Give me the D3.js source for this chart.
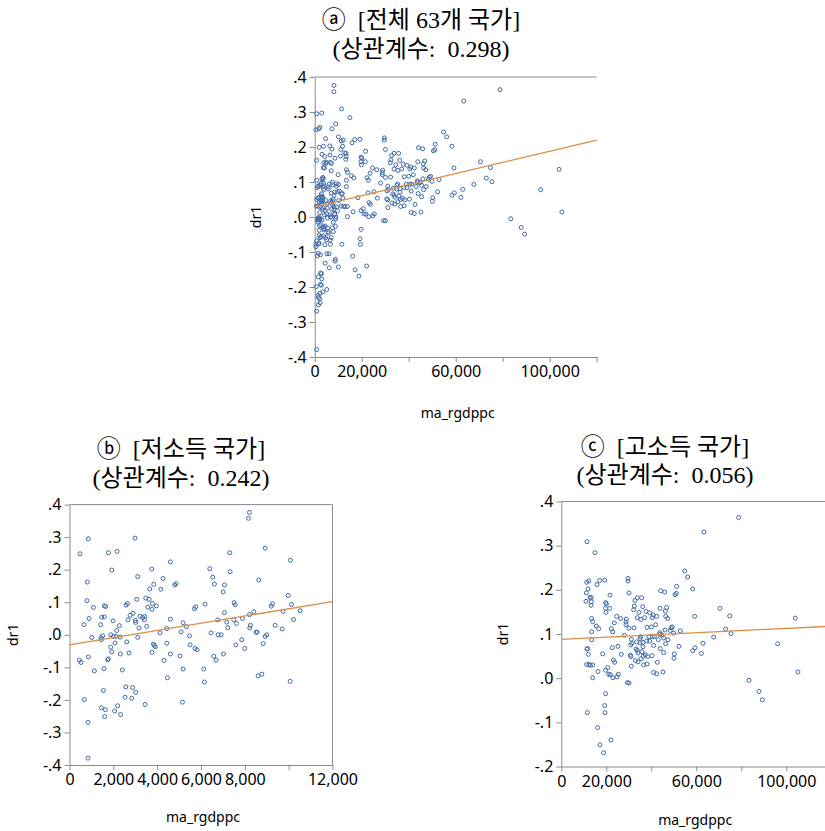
<!DOCTYPE html>
<html>
<head>
<meta charset="utf-8">
<script src="https://cdn.jsdelivr.net/npm/d3@7"></script>
<style>
  html, body { margin: 0; padding: 0; background: #ffffff; }
  svg { display: block; }
  .tick text { font-family: 'Noto Sans', 'Open Sans', sans-serif; fill: #000; }
</style>
</head>
<body>
<svg id="chart" width="825" height="831"></svg>
<script>
/* Scatter of dr1 vs ma_rgdppc: all countries, low income, high income */

// low income countries: [ma_rgdppc, dr1]
const lowIncome = [
  [860,0.295],[2990,0.297],[479,0.249],[1773,0.252],[2169,0.256],[4604,0.224],[1925,0.199],[3752,0.202],
  [3112,0.179],[814,0.162],[4269,0.173],[3843,0.155],[4863,0.157],[4802,0.153],[3660,0.141],[4163,0.140],
  [3478,0.113],[3630,0.109],[3067,0.109],[799,0.105],[3782,0.096],[2641,0.096],[2580,0.091],[3965,0.089],
  [1088,0.084],[1590,0.089],[1651,0.087],[3569,0.085],[3767,0.078],[5761,0.086],[5700,0.080],[2899,0.066],
  [2762,0.060],[3219,0.057],[3432,0.056],[3341,0.053],[1469,0.054],[1590,0.055],[890,0.050],[2671,0.046],
  [1986,0.043],[3006,0.044],[3417,0.046],[4604,0.048],[3021,0.038],[662,0.031],[1423,0.031],[2275,0.028],
  [3523,0.026],[3173,0.021],[5182,0.037],[5335,0.025],[2154,0.013],[4437,0.019],[5091,0.009],[4132,0.006],
  [1012,-0.008],[1514,-0.003],[1438,-0.009],[1453,-0.015],[1880,0.000],[2001,-0.005],[2123,-0.005],[2306,-0.007],
  [3112,-0.008],[5472,-0.003],[2078,-0.025],[2610,-0.022],[3828,-0.029],[3873,-0.033],[3919,-0.037],[4437,-0.026],
  [5502,-0.031],[5730,-0.042],[5822,-0.046],[1880,-0.038],[1925,-0.052],[2321,-0.059],[2717,-0.056],[3767,-0.054],
  [4604,-0.059],[5045,-0.065],[860,-0.068],[1773,-0.074],[1743,-0.077],[449,-0.078],[525,-0.085],[4315,-0.079],
  [1134,-0.111],[1575,-0.104],[2412,-0.108],[5182,-0.105],[4467,-0.132],[2565,-0.160],[2884,-0.162],[3021,-0.177],
  [1545,-0.171],[2534,-0.192],[2839,-0.195],[677,-0.199],[5152,-0.207],[3447,-0.214],[2199,-0.218],[1453,-0.224],
  [1636,-0.230],[2062,-0.234],[2336,-0.245],[1606,-0.251],[845,-0.269],[845,-0.379],
  [8211,0.376],[8165,0.358],[8927,0.266],[7313,0.252],[10083,0.229],[6400,0.203],[7328,0.194],[6537,0.177],
  [8637,0.168],[6613,0.156],[7070,0.153],[7009,0.132],[9977,0.121],[7511,0.099],[7557,0.092],[9261,0.095],
  [9200,0.088],[10129,0.093],[6187,0.094],[9748,0.072],[10525,0.074],[7070,0.068],[8409,0.071],[8211,0.062],
  [7892,0.050],[7496,0.046],[6765,0.046],[7176,0.039],[7618,0.035],[10220,0.047],[8257,0.029],[8226,0.021],
  [7222,0.022],[9383,0.029],[9703,0.018],[8516,0.008],[8561,0.008],[6461,0.006],[6780,0.000],[6917,0.000],
  [9003,0.000],[8927,-0.005],[7861,-0.015],[7587,-0.031],[8835,-0.027],[7998,-0.042],[7024,-0.059],[6583,-0.066],
  [6689,-0.078],[6126,-0.105],[6156,-0.145],[8607,-0.126],[8775,-0.121],[10068,-0.143]
];

// high income countries: [ma_rgdppc, dr1]
const highIncome = [
  [11421,0.309],[14976,0.284],[54825,0.243],[56158,0.229],[12163,0.220],[11274,0.217],[17051,0.221],[19273,0.222],
  [15865,0.212],[29641,0.226],[29641,0.220],[11865,0.202],[11125,0.193],[30086,0.193],[44159,0.198],[45937,0.195],
  [51270,0.208],[58381,0.202],[50528,0.189],[51121,0.192],[12754,0.183],[13347,0.182],[21642,0.188],[33789,0.182],
  [35715,0.182],[32752,0.176],[10977,0.174],[13347,0.173],[13199,0.165],[19717,0.171],[20013,0.168],[21494,0.158],
  [19717,0.158],[19865,0.149],[32456,0.163],[32160,0.155],[36160,0.162],[43862,0.158],[46826,0.160],[46234,0.152],
  [34530,0.149],[37641,0.151],[39270,0.148],[40899,0.143],[42381,0.140],[24605,0.140],[26383,0.135],[28901,0.134],
  [33789,0.137],[35419,0.133],[37049,0.137],[40455,0.137],[46381,0.140],[47270,0.135],[59270,0.140],[13495,0.135],
  [13939,0.128],[23568,0.125],[28753,0.127],[28753,0.121],[15569,0.118],[16606,0.112],[22235,0.112],[22828,0.105],
  [30086,0.113],[32308,0.114],[38085,0.115],[40011,0.116],[41937,0.121],[43715,0.103],[44751,0.098],[46084,0.109],
  [48751,0.114],[49344,0.116],[48455,0.108],[49936,0.102],[52899,0.107],[13495,0.105],[28012,0.097],[38974,0.094],
  [40455,0.094],[41344,0.094],[43715,0.099],[35270,0.094],[34974,0.090],[31123,0.088],[31419,0.079],[30827,0.075],
  [33493,0.082],[34974,0.080],[36307,0.081],[37937,0.084],[39270,0.084],[43122,0.087],[45492,0.091],[47418,0.087],
  [46381,0.078],[41047,0.074],[13495,0.087],[22680,0.069],[25197,0.072],[44011,0.067],[52306,0.072],[59416,0.069],
  [58381,0.062],[11717,0.067],[11421,0.066],[36307,0.071],[33197,0.066],[33789,0.063],[35863,0.060],[12014,0.054],
  [18384,0.055],[26680,0.054],[30679,0.052],[30975,0.049],[34086,0.057],[37345,0.053],[36456,0.050],[38382,0.049],
  [40308,0.051],[45492,0.058],[50232,0.055],[50084,0.045],[23124,0.041],[23716,0.036],[32901,0.040],[34086,0.037],
  [35419,0.044],[31123,0.027],[36604,0.030],[38085,0.032],[42677,0.036],[11274,0.031],[12310,0.031],[12903,0.029],
  [13939,0.030],[20605,0.024],[19717,0.018],[16310,0.015],[13939,0.001],[21050,0.009],[21790,0.008],[25346,0.009],
  [24753,0.003],[22976,0.001],[41047,0.013],[42381,0.010],[45196,0.014],[29346,-0.010],[30086,-0.011],[19717,-0.035],
  [19273,-0.062],[19421,-0.078],[11569,-0.078],[16161,-0.112],[22087,-0.140],[17198,-0.151],[18828,-0.169],
  [78822,0.364],[63416,0.331],[70526,0.158],[74823,0.141],[104003,0.136],[73045,0.111],[75415,0.101],[67713,0.093],
  [62971,0.079],[96155,0.078],[62229,0.056],[105189,0.014],[83414,-0.005],[87858,-0.030],[89339,-0.049]
];

// fitted lines: [intercept, slope]
const fitAll = [0.029, 1.59e-6];
const fitLow = [-0.031, 1.11e-5];
const fitHigh = [0.088, 2.47e-7];

// titles
const titleAll = ['ⓐ  [전체 63개 국가]', '(상관계수:  0.298)'];
const titleLow = ['ⓑ  [저소득 국가]', '(상관계수:  0.242)'];
const titleHigh = ['ⓒ  [고소득 국가]', '(상관계수:  0.056)'];

// ticks
const drTicksFull = [-0.4, -0.3, -0.2, -0.1, 0, 0.1, 0.2, 0.3, 0.4];
const drTicksHigh = [-0.2, -0.1, 0, 0.1, 0.2, 0.3, 0.4];
const gdpTicks = [0, 20000, 40000, 60000, 80000, 100000, 120000];
const gdpTickLabels = ['0', '20,000', '', '60,000', '', '100,000', ''];
const lowGdpTicks = [0, 2000, 4000, 6000, 8000, 10000, 12000];
const lowGdpTickLabels = ['0', '2,000', '4,000', '6,000', '8,000', '', '12,000'];

const pointColor = '#3f6aa6';
const lineColor = '#dc8d45';
const axisColor = '#8a8a8a';

const svg = d3.select('#chart');

const panels = [
  {
    points: lowIncome.concat(highIncome), fit: fitAll, title: titleAll,
    xDomain: [0, 120000], yDomain: [-0.4, 0.4],
    xTicks: gdpTicks, xLabels: gdpTickLabels, yTicks: drTicksFull,
    left: 314.7, right: 596.7, top: 77, bottom: 357, rightBorder: false,
    titleX: 421, titleY: [28, 57], yLabelX: 256, xLabelY: 418
  },
  {
    points: lowIncome, fit: fitLow, title: titleLow,
    xDomain: [0, 12000], yDomain: [-0.4, 0.4],
    xTicks: lowGdpTicks, xLabels: lowGdpTickLabels, yTicks: drTicksFull,
    left: 69.5, right: 332.5, top: 504.6, bottom: 765, rightBorder: true,
    titleX: 181, titleY: [457, 486], yLabelX: 13, xLabelY: 822
  },
  {
    points: highIncome, fit: fitHigh, title: titleHigh,
    xDomain: [0, 120000], yDomain: [-0.2, 0.4],
    xTicks: gdpTicks, xLabels: gdpTickLabels, yTicks: drTicksHigh,
    left: 561.3, right: 831.3, top: 501.5, bottom: 766.5, rightBorder: false,
    titleX: 665, titleY: [455, 483], yLabelX: 503, xLabelY: 825
  }
];

function drFormat(d) {
  // .4, .0, -.1 style with a plain hyphen
  return d3.format('.1f')(d).replace('\u2212', '-').replace('0.', '.');
}

panels.forEach(drawPanel);

function drawPanel(p) {
  const x = d3.scaleLinear().domain(p.xDomain).range([p.left, p.right]);
  const y = d3.scaleLinear().domain(p.yDomain).range([p.bottom, p.top]);
  const g = svg.append('g');

  // frame lines
  g.append('line')
    .attr('x1', p.left).attr('x2', p.right)
    .attr('y1', p.top).attr('y2', p.top)
    .attr('stroke', axisColor).attr('stroke-width', 1);
  if (p.rightBorder) {
    g.append('line')
      .attr('x1', p.right).attr('x2', p.right)
      .attr('y1', p.top).attr('y2', p.bottom)
      .attr('stroke', axisColor).attr('stroke-width', 1);
  }

  // axes
  const xAxis = g.append('g')
    .attr('transform', `translate(0, ${p.bottom})`)
    .call(d3.axisBottom(x)
      .tickValues(p.xTicks)
      .tickFormat((d, i) => p.xLabels[i])
      .tickSize(5).tickSizeOuter(0).tickPadding(4));
  const yAxis = g.append('g')
    .attr('transform', `translate(${p.left}, 0)`)
    .call(d3.axisLeft(y)
      .tickValues(p.yTicks)
      .tickFormat(drFormat)
      .tickSize(5).tickSizeOuter(0).tickPadding(3));

  [xAxis, yAxis].forEach(ax => {
    ax.select('.domain').attr('stroke', axisColor);
    ax.selectAll('.tick line').attr('stroke', axisColor);
    ax.selectAll('.tick text').style('font-size', '16px');
  });

  // points
  g.append('g')
    .selectAll('circle')
    .data(p.points)
    .enter()
    .append('circle')
    .attr('cx', d => x(d[0]))
    .attr('cy', d => y(d[1]))
    .attr('r', 2)
    .attr('fill', 'none')
    .attr('stroke', pointColor)
    .attr('stroke-width', 1);

  // fitted line
  const x0 = p.xDomain[0], x1 = p.xDomain[1];
  g.append('line')
    .attr('x1', x(x0)).attr('y1', y(p.fit[0] + p.fit[1] * x0))
    .attr('x2', x(x1)).attr('y2', y(p.fit[0] + p.fit[1] * x1))
    .attr('stroke', lineColor)
    .attr('stroke-width', 1.3);

  // axis titles
  g.append('text')
    .attr('transform', `translate(${p.yLabelX}, ${(p.top + p.bottom) / 2}) rotate(-90)`)
    .attr('text-anchor', 'middle')
    .attr('dy', '0.35em')
    .style('font-family', "'Noto Sans', sans-serif")
    .style('font-size', '14px')
    .text('dr1');

  g.append('text')
    .attr('x', (p.left + Math.min(p.right, 825)) / 2 + 2)
    .attr('y', p.xLabelY)
    .attr('text-anchor', 'middle')
    .style('font-family', "'Noto Sans', sans-serif")
    .style('font-size', '14px')
    .text('ma_rgdppc');

  // chart title
  p.title.forEach((t, i) => {
    svg.append('text')
      .attr('x', p.titleX)
      .attr('y', p.titleY[i])
      .attr('text-anchor', 'middle')
      .style('font-family', "'Liberation Serif', 'Noto Sans CJK KR', serif")
      .style('font-size', '24px')
      .style('white-space', 'pre')
      .text(t);
  });
}
</script>
</body>
</html>
